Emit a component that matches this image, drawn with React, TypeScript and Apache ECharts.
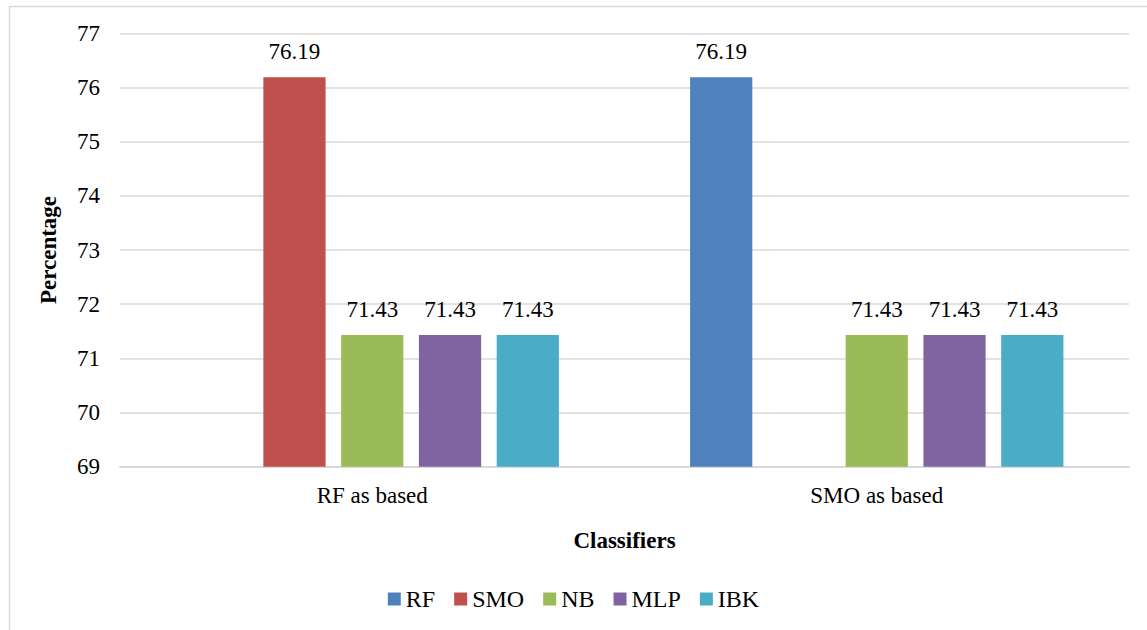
import React, { useEffect, useRef } from "react";
import * as echarts from "echarts";

const categories = ["RF as based", "SMO as based"];
const seriesNames = ["RF", "SMO", "NB", "MLP", "IBK"];
const rfValues = [null, 76.19];
const smoValues = [76.19, null];
const nbValues = [71.43, 71.43];
const mlpValues = [71.43, 71.43];
const ibkValues = [71.43, 71.43];
const colors = ["#4F81BD", "#C0504D", "#9BBB59", "#8064A2", "#4BACC6"];

const FONT = "Liberation Serif";

export default function App() {
  const ref = useRef<HTMLDivElement>(null);
  useEffect(() => {
    if (!ref.current) return;
    const chart = echarts.init(ref.current, undefined, { renderer: "svg" });
    const values = [rfValues, smoValues, nbValues, mlpValues, ibkValues];
    chart.setOption({
      animation: false,
      backgroundColor: "#ffffff",
      textStyle: { fontFamily: FONT },
      graphic: [
        {
          type: "rect",
          left: 7,
          top: 4,
          shape: { width: 1200, height: 700 },
          style: { fill: "none", stroke: "#d9d9d9", lineWidth: 1.5 },
          silent: true,
        },
      ],
      grid: { left: 120, right: 18, top: 33.3, bottom: 163.3, containLabel: false },
      legend: {
        bottom: 14,
        left: "center",
        itemWidth: 13,
        itemHeight: 13,
        itemGap: 19,
        icon: "rect",
        textStyle: { fontFamily: FONT, fontSize: 24, color: "#000" },
        data: seriesNames,
      },
      xAxis: {
        type: "category",
        data: categories,
        name: "Classifiers",
        nameLocation: "middle",
        nameGap: 62,
        nameTextStyle: { fontFamily: FONT, fontSize: 23, fontWeight: "bold", color: "#000" },
        axisLine: { show: true, lineStyle: { color: "#d9d9d9", width: 2 } },
        axisTick: { show: false },
        axisLabel: { fontFamily: FONT, fontSize: 23, color: "#000", margin: 17 },
      },
      yAxis: {
        type: "value",
        min: 69,
        max: 77,
        interval: 1,
        name: "Percentage",
        nameLocation: "middle",
        nameGap: 60,
        nameTextStyle: { fontFamily: FONT, fontSize: 23, fontWeight: "bold", color: "#000" },
        axisLine: { show: false },
        axisTick: { show: false },
        axisLabel: { fontFamily: FONT, fontSize: 23, color: "#000", margin: 20 },
        splitLine: { lineStyle: { color: "#d9d9d9", width: 1.5 } },
      },
      series: seriesNames.map((name, i) => ({
        name,
        type: "bar",
        data: values[i],
        barGap: "25%",
        barCategoryGap: "26%",
        itemStyle: { color: colors[i] },
        label: {
          show: true,
          position: "top",
          distance: 14,
          fontFamily: FONT,
          fontSize: 23,
          color: "#000",
          formatter: (p: any) => (p.value == null ? "" : Number(p.value).toFixed(2)),
        },
      })),
    });
    return () => chart.dispose();
  }, []);
  return (
    <div
      ref={ref}
      style={{ position: "absolute", left: 0, top: 0, width: 1147, height: 630 }}
    />
  );
}
